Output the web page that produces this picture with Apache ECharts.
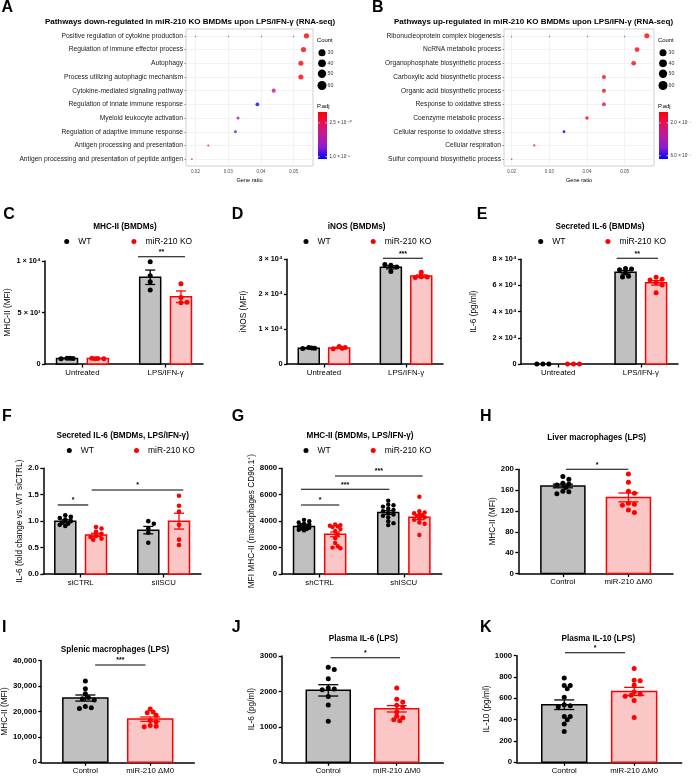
<!DOCTYPE html>
<html><head><meta charset="utf-8">
<script src="https://cdn.jsdelivr.net/npm/echarts@6/dist/echarts.min.js"></script>
<style>html,body{margin:0;padding:0;background:#fff}#c{width:700px;height:777px}</style>
</head><body><div id="c"></div>
<script>
// ================= DATA =================
// Panel A (down-regulated pathways)
const aTerms = ['Positive regulation of cytokine production','Regulation of immune effector process','Autophagy','Process utilizing autophagic mechanism','Cytokine-mediated signaling pathway','Regulation of innate immune response','Myeloid leukocyte activation','Regulation of adaptive immune response','Antigen processing and presentation','Antigen processing and presentation of peptide antigen'];
const aRatio = [0.0539, 0.0530, 0.0522, 0.0522, 0.0439, 0.0389, 0.0330, 0.0322, 0.0239, 0.0189];
const aCount = [62, 61, 60, 60, 50, 45, 38, 37, 27, 22];
const aPadj = [1.2e-11, 1.6e-11, 2.0e-11, 2.2e-11, 4.8e-10, 1.04e-9, 6.3e-10, 8.4e-10, 2.2e-10, 6.0e-11];
const aPadjRange = [1.0e-11, 1.05e-9];
const aPadjTicks = [2.5e-10, 1.0e-9];
const aPadjTickLabels = ['2.5 × 10⁻¹⁰', '1.0 × 10⁻⁹'];
// Panel B (up-regulated pathways)
const bTerms = ['Ribonucleoprotein complex biogenesis','NcRNA metabolic process','Organophosphate biosynthetic process','Carboxylic acid biosynthetic process','Organic acid biosynthetic process','Response to oxidative stress','Coenzyme metabolic process','Cellular response to oxidative stress','Cellular respiration','Sulfur compound biosynthetic process'];
const bRatio = [0.0559, 0.0533, 0.0524, 0.0445, 0.0445, 0.0445, 0.0400, 0.0339, 0.0260, 0.0200];
const bCount = [60, 57, 56, 48, 48, 48, 43, 36, 28, 21];
const bPadj = [6.8e-8, 8.4e-8, 9.6e-8, 8.4e-8, 9.6e-8, 2.4e-7, 9.6e-8, 6.4e-7, 1.8e-7, 9.5e-8];
const bPadjRange = [6.7e-8, 6.4e-7];
const bPadjTicks = [2.0e-7, 6.0e-7];
const bPadjTickLabels = ['2.0 × 10⁻⁷', '6.0 × 10⁻⁷'];
const ratioTicks = [0.02, 0.03, 0.04, 0.05];
const ratioTickLabels = ['0.02', '0.03', '0.04', '0.05'];
const countLegend = [30, 40, 50, 60];

// Panel C
const cCats = ['Untreated', 'LPS/IFN-γ'];
const cWT = [[560, 540, 520, 560], [9930, 8560, 7990, 7180]];
const cKO = [[540, 500, 560, 520], [7800, 6450, 5950, 6000]];
const cWTMean = [545, 8420], cWTSem = [10, 700];
const cKOMean = [530, 6530], cKOSem = [12, 560];
const cTicks = ['0', '5 × 10³', '1 × 10⁴'];
// Panel D
const dCats = ['Untreated', 'LPS/IFN-γ'];
const dWT = [[4700, 4500, 4450, 4600], [28300, 27800, 28500, 26500]];
const dKO = [[5000, 4700, 4400, 4500], [26300, 25000, 24900, 24800]];
const dWTMean = [4520, 27700], dWTSem = [150, 450];
const dKOMean = [4600, 25200], dKOSem = [200, 350];
const dTicks = ['0', '1 × 10⁴', '2 × 10⁴', '3 × 10⁴'];
// Panel E
const eCats = ['Untreated', 'LPS/IFN-γ'];
const eWT = [[0, 0, 0], [73000, 72500, 72000, 69500, 67000, 66500]];
const eKO = [[0, 0, 0], [66200, 64700, 64200, 62200, 60400, 54500]];
const eWTMean = [null, 70100], eWTSem = [null, 1300];
const eKOMean = [null, 62000], eKOSem = [null, 1700];
const eTicks = ['0', '2 × 10⁴', '4 × 10⁴', '6 × 10⁴', '8 × 10⁴'];
// Panel F
const fCats = ['siCTRL', 'siISCU'];
const fWT = [[1.11, 1.08, 1.06, 1.03, 1.00, 0.97, 0.95, 0.93, 0.91], [1.00, 0.95, 0.86, 0.78, 0.59]];
const fKO = [[0.89, 0.86, 0.80, 0.76, 0.72, 0.70, 0.67, 0.65], [1.48, 1.29, 1.18, 0.93, 0.65, 0.55]];
const fWTMean = [1.0, 0.83], fWTSem = [0.025, 0.07];
const fKOMean = [0.74, 1.0], fKOSem = [0.03, 0.15];
const fTicks = ['0.0', '0.5', '1.0', '1.5', '2.0'];
// Panel G
const gCats = ['shCTRL', 'shISCU'];
const gWT = [[4100, 4000, 3900, 3800, 3750, 3700, 3650, 3600, 3550, 3500, 3450, 3400, 3350, 3300], [5550, 5250, 5200, 5100, 4950, 4850, 4750, 4600, 4500, 4400, 4300, 4000, 3850, 3700]];
const gKO = [[3750, 3700, 3650, 3600, 3550, 3400, 3250, 3000, 2700, 2350, 2100, 2000, 1950], [5850, 4750, 4650, 4600, 4500, 4450, 4400, 4300, 4200, 4100, 3900, 3800, 2950]];
const gWTMean = [3600, 4650], gWTSem = [70, 140];
const gKOMean = [3000, 4300], gKOSem = [180, 190];
const gTicks = ['0', '2000', '4000', '6000', '8000'];
// Panels H-K (Control vs miR-210 ΔM0)
const mCats = ['Control', 'miR-210 ΔM0'];
const hVals = [[186, 181, 173, 172, 170, 165, 158, 157, 153], [191, 175, 158, 154, 135, 133, 131, 122, 117]];
const hMean = [168, 146], hSem = [3.5, 8.5];
const hTicks = ['0', '40', '80', '120', '160', '200'];
const iVals = [[32000, 29000, 27000, 25500, 25000, 24500, 22000, 21500, 21200], [21000, 19800, 19500, 18500, 16500, 16000, 14500, 14200, 14000]];
const iMean = [25300, 17000], iSem = [1200, 850];
const iTicks = ['0', '10,000', '20,000', '30,000', '40,000'];
const jVals = [[2680, 2620, 2360, 2100, 2070, 2050, 1860, 1620, 1160], [2100, 1780, 1700, 1610, 1560, 1420, 1300, 1260, 1200, 1170]];
const jMean = [2030, 1510], jSem = [160, 90];
const jTicks = ['0', '1000', '2000', '3000'];
const kVals = [[790, 720, 720, 690, 610, 540, 530, 520, 430, 430, 400, 360, 290], [880, 770, 765, 725, 660, 640, 630, 620, 580, 420]];
const kMean = [540, 665], kSem = [45, 38];
const kTicks = ['0', '200', '400', '600', '800', '1000'];

// ================= LAYOUT / STYLE =================
const FONT = "'Liberation Sans', Arial, Helvetica, sans-serif";
const RAMP = ['#ff0000', '#e4115e', '#bd1a9a', '#8d1bd3', '#0000ff'];
const STY = {
  wt: {fill: '#c0c0c0', edge: '#000000', dot: '#000000'},
  ko: {fill: '#fbc6c6', edge: '#ff0000', dot: '#ff0000'}
};
const option = {
  animation: false, backgroundColor: '#ffffff', textStyle: {fontFamily: FONT},
  grid: [], xAxis: [], yAxis: [], series: [], legend: [], visualMap: [],
  graphic: {elements: []}
};
const G = option.graphic.elements;
function txt(x, y, text, size, opts) {
  opts = opts || {};
  G.push({type: 'text', x: x, y: y, silent: true, style: {
    text: text, fontSize: size, fontWeight: opts.bold ? 'bold' : 'normal', fontFamily: FONT,
    fill: opts.color || '#000', align: opts.align || 'left', textAlign: opts.align || 'left',
    verticalAlign: 'middle', textVerticalAlign: 'middle'}});
}
const dotSizeOf = c => 1.0 + (c - 15) * 0.09;
const legendDiam = c => 5.2 + c * 0.063;

function ggPanel(box, terms, ratio, count, padj, range, xr, pTicks, pTickLabels, leg) {
  const gi = option.grid.length;
  option.grid.push({left: box.left, top: box.top, width: box.w, height: box.h, show: true,
    borderColor: '#c4c4c4', borderWidth: 0.8, backgroundColor: '#ffffff'});
  const idx = terms.map((t, i) => i);
  option.xAxis.push({type: 'value', gridIndex: gi, min: xr[0], max: xr[1],
    axisLine: {show: false},
    axisTick: {show: true, customValues: ratioTicks, length: 1.5, lineStyle: {color: '#444', width: 0.6}},
    axisLabel: {customValues: ratioTicks, formatter: v => ratioTickLabels[ratioTicks.findIndex(t => Math.abs(t - v) < 1e-6)], fontSize: 4.6, color: '#4d4d4d', margin: 3},
    splitLine: {show: true, lineStyle: {color: '#ebebeb', width: 0.6}},
    name: 'Gene ratio', nameLocation: 'middle', nameGap: 11, nameTextStyle: {fontSize: 5.6, color: '#000'}});
  option.yAxis.push({type: 'value', gridIndex: gi, inverse: true, min: -0.5, max: terms.length - 0.5,
    axisLine: {show: false, onZero: false},
    axisTick: {show: true, customValues: idx, length: 1.5, lineStyle: {color: '#444', width: 0.6}},
    axisLabel: {customValues: idx, formatter: v => terms[Math.round(v)], fontSize: 6.7, color: '#1a1a1a', margin: 3},
    splitLine: {show: true, lineStyle: {color: '#ebebeb', width: 0.6}}});
  const si = option.series.length;
  option.series.push({type: 'scatter', xAxisIndex: gi, yAxisIndex: gi, clip: false, silent: true,
    data: terms.map((t, i) => [ratio[i], i, padj[i], count[i]]),
    symbolSize: d => dotSizeOf(d[3])});
  option.visualMap.push({type: 'continuous', show: false, seriesIndex: si, dimension: 2,
    min: range[0], max: range[1], inRange: {color: RAMP}});
  // size legend
  txt(leg.x, 40, 'Count', 5.9);
  const cy = [52.7, 63.3, 73.7, 85.5];
  countLegend.forEach((c, i) => {
    G.push({type: 'circle', silent: true, shape: {cx: leg.x + 5, cy: cy[i], r: legendDiam(c) / 2}, style: {fill: '#000'}});
    txt(leg.x + 10.5, cy[i], String(c), 5.2, {color: '#333'});
  });
  // colour bar
  txt(leg.x, 106, 'P.adj', 5.9);
  const cb = {x: leg.x + 1, y: 112, w: 9, h: 47};
  G.push({type: 'rect', silent: true, shape: {x: cb.x, y: cb.y, width: cb.w, height: cb.h},
    style: {fill: {type: 'linear', x: 0, y: 0, x2: 0, y2: 1,
      colorStops: RAMP.map((c, i) => ({offset: i / (RAMP.length - 1), color: c}))}}});
  pTicks.forEach((v, i) => {
    const y = cb.y + (v - range[0]) / (range[1] - range[0]) * cb.h;
    G.push({type: 'line', silent: true, shape: {x1: cb.x, y1: y, x2: cb.x + 1.8, y2: y}, style: {stroke: '#fff', lineWidth: 0.6}});
    G.push({type: 'line', silent: true, shape: {x1: cb.x + cb.w - 1.8, y1: y, x2: cb.x + cb.w, y2: y}, style: {stroke: '#fff', lineWidth: 0.6}});
    txt(cb.x + cb.w + 2.5, y, pTickLabels[i], 4.6, {color: '#333'});
  });
}

function swarm(vals, pxY, pxX, d, maxOff) {
  const placed = [];
  const step = d * 0.6;
  return vals.map(v => {
    const py = v * pxY;
    let best = 0, bestScore = -1;
    for (let n = 0; n < 80; n++) {
      const mag = Math.ceil(n / 2) * step;
      if (mag > maxOff) break;
      const cand = (n % 2 ? 1 : -1) * mag;
      const md = placed.length ? Math.min.apply(null, placed.map(q => Math.hypot(q[0] - cand, q[1] - py))) : Infinity;
      if (md >= d * 0.85) { best = cand; bestScore = Infinity; break; }
      if (md > bestScore) { bestScore = md; best = cand; }
    }
    placed.push([best, py]);
    return best / pxX;
  });
}

function barPanel(p) {
  const gi = option.grid.length;
  const W = p.grid.right - p.grid.left, H = p.grid.bottom - p.grid.top;
  option.grid.push({left: p.grid.left, top: p.grid.top, width: W, height: H});
  const idx = p.cats.map((c, i) => i);
  option.xAxis.push({type: 'value', gridIndex: gi, min: p.xr[0], max: p.xr[1],
    axisLine: {show: true, onZero: false, lineStyle: {color: '#000', width: 1.5}},
    axisTick: {show: true, customValues: idx, length: 3.5, lineStyle: {color: '#000', width: 1.3}},
    axisLabel: {customValues: idx, formatter: v => p.cats[Math.round(v)], fontSize: 7.8, color: '#000', margin: 4.5},
    splitLine: {show: false}});
  option.yAxis.push({type: 'value', gridIndex: gi, min: 0, max: p.yMax, interval: p.yStep,
    axisLine: {show: true, onZero: false, lineStyle: {color: '#000', width: 1.5}},
    axisTick: {show: true, length: 3, lineStyle: {color: '#000', width: 1.3}},
    axisLabel: {formatter: v => p.yLabels[Math.round(v / p.yStep)], fontSize: p.tickFont || 7.8, fontWeight: 'bold', color: '#000', margin: 4.5},
    splitLine: {show: false},
    name: p.yName, nameLocation: 'middle', nameGap: p.nameGap, nameTextStyle: {fontSize: 8.3, color: '#000'}});
  const pxX = W / (p.xr[1] - p.xr[0]), pxY = H / p.yMax;
  const maxOff = p.barW / 2 - p.dot / 2 - 0.5;
  // bars
  p.series.forEach(s => {
    const st = STY[s.sty];
    const data = s.xs.map((x, i) => [x, s.mean[i]]).filter(d => d[1] != null);
    option.series.push({type: 'custom', name: s.name + ' (mean)', xAxisIndex: gi, yAxisIndex: gi, z: 2, silent: true, clip: false,
      data: data,
      renderItem: (params, api) => {
        const x = api.value(0), m = api.value(1);
        const a = api.coord([x, 0]), b = api.coord([x, m]);
        return {type: 'rect', shape: {x: a[0] - p.barW / 2, y: b[1], width: p.barW, height: a[1] - b[1]},
          style: {fill: st.fill, stroke: st.edge, lineWidth: 1.5}};
      }});
  });
  // dots
  p.series.forEach(s => {
    const st = STY[s.sty];
    const data = [];
    s.xs.forEach((x, i) => {
      const offs = swarm(s.vals[i], pxY, pxX, p.dot, maxOff);
      s.vals[i].forEach((v, j) => data.push([x + offs[j], v]));
    });
    option.series.push({type: 'scatter', name: s.name, xAxisIndex: gi, yAxisIndex: gi, z: 3, silent: true, clip: false,
      symbol: 'circle', symbolSize: p.dot, itemStyle: {color: st.dot, opacity: 1}, data: data});
  });
  // error bars (mean ± SEM)
  p.series.forEach(s => {
    const st = STY[s.sty];
    const data = s.xs.map((x, i) => [x, s.mean[i], s.sem[i]]).filter(d => d[1] != null);
    option.series.push({type: 'custom', name: s.name + ' (SEM)', xAxisIndex: gi, yAxisIndex: gi, z: 4, silent: true, clip: false,
      data: data,
      renderItem: (params, api) => {
        const x = api.value(0), m = api.value(1), e = api.value(2);
        const lo = api.coord([x, m - e]), hi = api.coord([x, m + e]);
        const hw = p.capW / 2, ls = {stroke: st.edge, lineWidth: 1.3};
        return {type: 'group', children: [
          {type: 'line', shape: {x1: lo[0], y1: lo[1], x2: hi[0], y2: hi[1]}, style: ls},
          {type: 'line', shape: {x1: hi[0] - hw, y1: hi[1], x2: hi[0] + hw, y2: hi[1]}, style: ls},
          {type: 'line', shape: {x1: lo[0] - hw, y1: lo[1], x2: lo[0] + hw, y2: lo[1]}, style: ls}
        ]};
      }});
  });
  // significance annotations
  option.series.push({type: 'custom', name: 'significance', xAxisIndex: gi, yAxisIndex: gi, z: 5, silent: true, clip: false,
    data: p.sig.map(s => [s[0], s[2], s[1]]),
    renderItem: (params, api) => {
      const s = p.sig[params.dataIndex];
      const a = api.coord([s[0], s[2]]), b = api.coord([s[1], s[2]]);
      return {type: 'group', children: [
        {type: 'line', shape: {x1: a[0], y1: a[1], x2: b[0], y2: b[1]}, style: {stroke: '#000', lineWidth: 1.1}},
        {type: 'text', x: (a[0] + b[0]) / 2, y: a[1] - 1, style: {text: s[3], fill: '#000', fontSize: 7, fontWeight: 'bold', fontFamily: FONT, align: 'center', verticalAlign: 'bottom'}}
      ]};
    }});
  txt(p.title[0], p.title[1], p.title[2], 8.2, {bold: true, align: 'center'});
  if (p.legend) {
    option.legend.push({left: p.legend[0] - 2.5, top: p.legend[1] - 5, padding: 0, itemWidth: 5, itemHeight: 5, itemGap: 40,
      selectedMode: false, textStyle: {fontSize: 8.5, color: '#000', fontFamily: FONT, padding: [0, 0, 0, 4]},
      data: [{name: 'WT', icon: 'circle', itemStyle: {color: '#000000'}},
             {name: 'miR-210 KO', icon: 'circle', itemStyle: {color: '#ff0000'}}]});
  }
}

const OFF = 0.185;
function grouped(wt, ko, wtM, wtS, koM, koS) {
  return [
    {name: 'WT', sty: 'wt', xs: [0 - OFF, 1 - OFF], vals: wt, mean: wtM, sem: wtS},
    {name: 'miR-210 KO', sty: 'ko', xs: [0 + OFF, 1 + OFF], vals: ko, mean: koM, sem: koS}
  ];
}
function paired(vals, mean, sem) {
  return [
    {name: 'Control', sty: 'wt', xs: [0], vals: [vals[0]], mean: [mean[0]], sem: [sem[0]]},
    {name: 'miR-210 ΔM0', sty: 'ko', xs: [1], vals: [vals[1]], mean: [mean[1]], sem: [sem[1]]}
  ];
}

// ================= BUILD =================
ggPanel({left: 186, top: 29, w: 127, h: 137}, aTerms, aRatio, aCount, aPadj, aPadjRange, [0.0171, 0.0559], aPadjTicks, aPadjTickLabels, {x: 317});
ggPanel({left: 504, top: 29, w: 150, h: 137}, bTerms, bRatio, bCount, bPadj, bPadjRange, [0.01796, 0.0578], bPadjTicks, bPadjTickLabels, {x: 658});
txt(190, 22, 'Pathways down-regulated in miR-210 KO BMDMs upon LPS/IFN-γ (RNA-seq)', 8, {bold: true, align: 'center'});
txt(533.5, 22, 'Pathways up-regulated in miR-210 KO BMDMs upon LPS/IFN-γ (RNA-seq)', 8, {bold: true, align: 'center'});

const GX = [-0.45, 1.45], PX = [-0.68, 1.68];
barPanel({grid: {left: 45, top: 261, right: 203, bottom: 364}, xr: GX, cats: cCats, yMax: 10000, yStep: 5000, yLabels: cTicks,
  yName: 'MHC-II (MFI)', nameGap: 33.5, barW: 21, capW: 10, dot: 5, tickFont: 7.3,
  series: grouped(cWT, cKO, cWTMean, cWTSem, cKOMean, cKOSem),
  sig: [[0.668, 1.234, 10417, '**']], title: [125, 226.7, 'MHC-II (BMDMs)'], legend: [66.7, 242]});
barPanel({grid: {left: 287, top: 259.3, right: 443, bottom: 364}, xr: GX, cats: dCats, yMax: 30000, yStep: 10000, yLabels: dTicks,
  yName: 'iNOS (MFI)', nameGap: 39, barW: 21, capW: 10, dot: 5, tickFont: 7.3,
  series: grouped(dWT, dKO, dWTMean, dWTSem, dKOMean, dKOSem),
  sig: [[0.719, 1.206, 30287, '***']], title: [356.7, 226.7, 'iNOS (BMDMs)'], legend: [306, 242]});
barPanel({grid: {left: 521, top: 259.3, right: 678, bottom: 364}, xr: GX, cats: eCats, yMax: 80000, yStep: 20000, yLabels: eTicks,
  yName: 'IL-6 (pg/ml)', nameGap: 43.5, barW: 21, capW: 10, dot: 5, tickFont: 7.3,
  series: grouped(eWT, eKO, eWTMean, eWTSem, eKOMean, eKOSem),
  sig: [[0.708, 1.208, 80764, '**']], title: [600, 226.7, 'Secreted IL-6 (BMDMs)'], legend: [540.7, 242]});
barPanel({grid: {left: 43.3, top: 468.3, right: 201, bottom: 574}, xr: GX, cats: fCats, yMax: 2, yStep: 0.5, yLabels: fTicks,
  yName: 'IL-6 (fold change vs. WT siCTRL)', nameGap: 17, barW: 21, capW: 10, dot: 4.6,
  series: grouped(fWT, fKO, fWTMean, fWTSem, fKOMean, fKOSem),
  sig: [[-0.276, 0.092, 1.306, '*'], [0.133, 1.237, 1.589, '*']], title: [122.7, 436, 'Secreted IL-6 (BMDMs, LPS/IFN-γ)'], legend: [69.3, 451]});
barPanel({grid: {left: 281.7, top: 468.3, right: 441.7, bottom: 574}, xr: GX, cats: gCats, yMax: 8000, yStep: 2000, yLabels: gTicks,
  yName: 'MFI MHC-II (macrophages CD90.1⁺)', nameGap: 25.5, barW: 21, capW: 10, dot: 4.4,
  series: grouped(gWT, gKO, gWTMean, gWTSem, gKOMean, gKOSem),
  sig: [[-0.221, 0.234, 5222, '*'], [-0.221, 0.828, 6411, '***'], [0.183, 1.224, 7417, '***']], title: [360, 436, 'MHC-II (BMDMs, LPS/IFN-γ)'], legend: [306, 451]});
barPanel({grid: {left: 518.3, top: 469.3, right: 673, bottom: 573.5}, xr: PX, cats: mCats, yMax: 200, yStep: 40, yLabels: hTicks,
  yName: 'MHC-II (MFI)', nameGap: 21, barW: 44, capW: 20, dot: 5,
  series: paired(hVals, hMean, hSem),
  sig: [[0.048, 0.998, 200, '*']], title: [596.7, 437.3, 'Liver macrophages (LPS)']});
barPanel({grid: {left: 40, top: 660.7, right: 194.3, bottom: 762.3}, xr: PX, cats: mCats, yMax: 40000, yStep: 10000, yLabels: iTicks,
  yName: 'MHC-II (MFI)', nameGap: 27, barW: 45, capW: 20, dot: 5,
  series: paired(iVals, iMean, iSem),
  sig: [[0.151, 0.926, 38307, '***']], title: [115, 649.3, 'Splenic macrophages (LPS)']});
barPanel({grid: {left: 281.7, top: 656, right: 443.3, bottom: 762.3}, xr: PX, cats: mCats, yMax: 3000, yStep: 1000, yLabels: jTicks,
  yName: 'IL-6 (pg/ml)', nameGap: 24, barW: 44, capW: 20, dot: 5,
  series: paired(jVals, jMean, jSem),
  sig: [[0.036, 1.048, 2952, '*']], title: [363.3, 638.3, 'Plasma IL-6 (LPS)']});
barPanel({grid: {left: 516.7, top: 655.7, right: 681.7, bottom: 762.3}, xr: PX, cats: mCats, yMax: 1000, yStep: 200, yLabels: kTicks,
  yName: 'IL-10 (pg/ml)', nameGap: 24, barW: 45, capW: 20, dot: 5,
  series: paired(kVals, kMean, kSem),
  sig: [[0.011, 0.869, 1028, '*']], title: [598.3, 638.3, 'Plasma IL-10 (LPS)']});

// panel letters
[['A', 1.5, 8], ['B', 372, 8], ['C', 3.3, 215], ['D', 231.7, 215], ['E', 476.7, 215],
 ['F', 2, 417], ['G', 231.7, 417], ['H', 480, 417], ['I', 2, 628], ['J', 231.7, 627.4], ['K', 480, 627.4]]
  .forEach(l => txt(l[1], l[2], l[0], 16, {bold: true}));

const chart = echarts.init(document.getElementById('c'), null, {renderer: 'canvas'});
chart.setOption(option);
</script>
</body></html>
